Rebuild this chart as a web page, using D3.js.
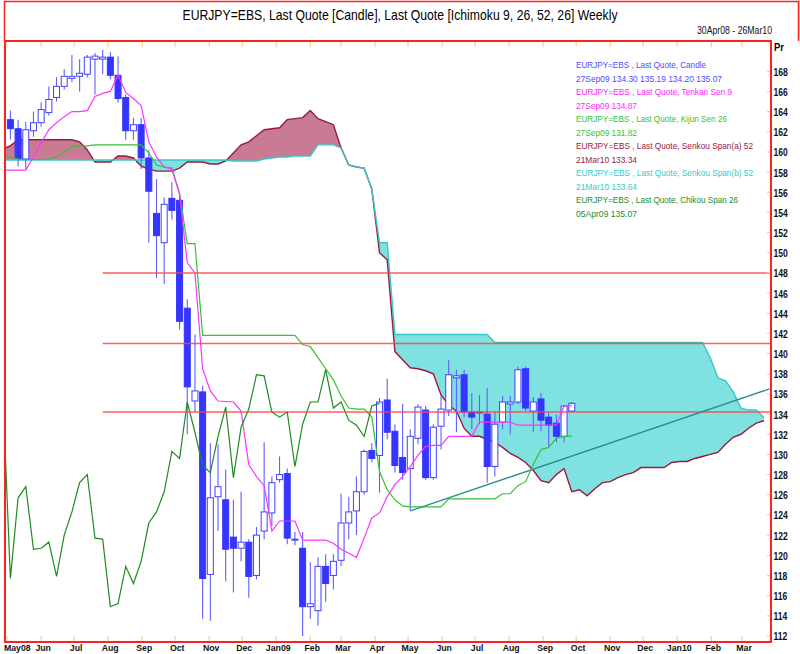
<!DOCTYPE html>
<html><head><meta charset="utf-8">
<script src="https://cdn.jsdelivr.net/npm/d3@7"></script>
<style>body{margin:0;background:#fff}svg{display:block;font-family:"Liberation Sans",Arial,sans-serif}</style>
</head><body><svg id="c" width="800" height="654"></svg>
<script>
// ---------- DATA ----------
const firstWeek = "2008-05-04";            // week index 0 (weekly candles)
const rangeStart = "2008-04-30", rangeEnd = "2010-03-26";
const openP  = [163.2,162.3,159.3,162.1,162.9,163.9,165.4,166.5,167.3,167.5,167.7,169.2,169.2,169.4,167.6,165.4,162.1,162.7,159.4,153.9,151.0,155.4,155.2,144.5,135.3,136.2,118.1,125.8,125.5,121.8,120.7,121.3,118.0,122.4,124.2,127.5,128.1,121.5,120.7,114.9,114.5,118.9,118.0,119.5,123.2,124.4,126.3,130.4,129.9,135.4,132.3,129.7,128.6,131.6,134.4,127.7,132.8,134.4,137.6,137.9,134.2,134.1,134.0,128.8,133.2,135.0,135.2,138.5,134.3,135.5,133.7,133.1,131.8,134.30];
const highP  = [164.1,163.2,163.0,164.0,164.9,166.5,167.4,168.2,169.6,169.2,169.6,169.8,170.1,169.9,169.5,165.7,163.4,163.4,160.2,157.3,155.5,157.0,155.6,145.4,141.9,136.8,131.1,131.0,128.5,125.5,126.3,121.6,122.8,131.2,127.8,129.8,128.6,122.3,122.3,119.3,119.8,120.1,120.1,126.1,125.8,127.8,130.5,131.1,135.6,137.5,133.0,135.0,132.5,135.0,134.8,133.0,135.8,139.4,138.4,138.4,136.1,135.9,136.6,134.2,135.8,135.8,138.7,138.7,135.7,136.1,134.2,133.9,134.9,135.19];
const lowP   = [161.2,158.55,158.3,161.5,162.5,163.6,165.0,166.2,166.9,166.0,167.4,165.7,167.7,167.2,164.9,161.2,161.2,158.3,151.0,147.5,146.9,153.3,142.4,132.0,134.2,113.7,113.5,122.4,117.4,116.3,119.4,115.8,117.6,121.6,122.9,127.2,121.1,121.0,112.0,113.7,113.0,115.4,116.6,118.9,121.6,122.0,126.0,129.2,126.2,131.5,128.2,127.5,124.4,131.0,127.5,127.5,130.5,133.8,132.2,133.7,132.5,133.0,127.2,127.8,132.5,132.0,135.0,134.3,132.2,132.3,130.8,131.2,131.2,134.20];
const closeP = [162.3,159.35,162.2,162.9,164.2,165.2,166.5,167.5,167.5,167.8,169.4,169.5,169.4,167.6,165.3,162.1,162.7,159.4,156.1,151.7,154.8,154.2,143.2,136.7,136.3,117.7,125.7,126.8,120.6,120.7,121.3,117.9,122.0,124.3,127.2,128.0,121.7,121.6,114.9,115.2,118.9,117.2,119.4,123.2,124.3,126.3,130.3,129.6,135.2,132.2,128.9,128.2,131.8,134.7,127.7,132.7,134.5,137.9,137.8,134.2,133.7,134.2,128.8,133.0,135.2,135.2,138.4,134.6,135.2,133.4,132.9,131.8,134.8,135.07];
// lines start at week -1
const tenkan = [158.2,158.2,158.2,158.2,159.5,160.9,162.2,162.9,163.5,164.0,164.0,164.1,165.5,165.8,166.0,167.6,165.9,165.3,164.6,161.0,159.5,158.5,158.3,155.8,149.0,148.0,138.5,136.3,135.3,135.25,135.2,134.3,129.0,127.8,126.9,122.4,123.4,123.4,123.4,121.5,121.5,121.5,121.5,121.2,120.6,120.2,119.8,121.7,123.7,124.2,125.8,127.0,127.8,128.8,129.9,130.8,130.9,130.9,131.8,131.8,131.8,131.8,133.2,133.2,133.2,133.2,133.2,132.9,132.9,132.9,132.9,132.9,132.9,134.8,134.87];
const kijun  = [159.7,159.5,159.3,159.25,159.25,159.25,159.3,159.5,160.0,160.5,160.6,160.6,160.7,160.7,160.7,160.7,160.7,160.7,160.7,159.9,158.7,158.5,158.4,155.9,150.9,150.9,141.8,141.8,141.8,141.8,141.8,141.8,141.8,141.8,141.8,141.8,141.8,141.8,141.8,140.9,140.7,139.6,138.5,137.4,135.8,134.6,134.5,134.5,133.7,128.3,126.5,125.5,124.9,124.8,124.8,124.8,124.8,124.8,125.6,125.6,125.6,125.6,125.6,125.6,125.6,126.1,126.1,126.9,127.3,129.0,130.5,130.7,131.6,131.8,131.82];
const senkouA = [160.3,160.6,161.2,161.2,161.2,161.2,161.2,161.2,161.2,161.2,161.0,160.2,159.0,159.0,159.0,159.6,159.6,159.4,158.6,158.3,158.1,158.1,158.1,158.4,159.0,159.0,159.0,158.8,158.8,159.1,159.9,160.7,161.0,161.6,162.2,162.3,162.4,163.2,163.3,163.4,164.1,163.3,163.0,162.7,160.4,158.7,158.5,158.4,156.3,150.0,149.3,140.2,139.4,138.6,138.5,138.3,138.0,135.9,134.9,134.3,132.6,131.8,131.8,131.5,131.2,130.7,130.1,129.7,129.2,128.4,127.4,127.2,128.0,128.6,126.3,126.5,125.9,126.6,127.2,127.3,127.7,128.0,128.2,128.7,128.7,128.7,128.7,129.2,129.3,129.3,129.6,129.8,130.0,130.2,131.0,131.7,132.0,132.6,133.1,133.34];
const senkouB = [159.2,159.2,159.2,159.2,159.2,159.2,159.2,159.2,159.2,159.2,159.2,159.2,159.2,159.2,159.2,159.2,159.2,159.2,159.2,159.2,159.2,159.2,159.2,159.2,159.2,159.2,159.2,159.2,159.2,159.2,159.1,159.1,159.1,159.1,159.3,159.4,159.5,159.5,159.6,159.6,159.6,160.7,160.7,160.7,160.4,158.7,158.5,158.4,156.3,151.0,151.0,141.9,141.9,141.9,141.9,141.9,141.9,141.9,141.9,141.9,141.9,141.9,141.9,141.9,141.1,141.1,141.1,141.1,141.1,141.1,141.1,141.1,141.1,141.1,141.1,141.1,141.1,141.1,141.1,141.1,141.1,141.1,141.1,141.1,141.1,141.1,141.1,141.1,141.1,141.1,141.1,141.1,139.6,137.6,137.3,136.2,134.6,134.4,134.4,133.64];
const lineStartWeek = -1;
const chikouShiftWeeks = 25;          // Chikou = close plotted 25 weeks back
const hLevels = [148, 141, 134.2];
const hLineStartWeek = 12;
const trendWeek = 52, trendStartVal = 124.4, trendEndVal = 136.5;
const yTickVals = [112,114,116,118,120,122,124,126,128,130,132,134,136,138,140,142,144,146,148,150,152,154,156,158,160,162,164,166,168];
const monthLabels = ["May08","Jun","Jul","Aug","Sep","Oct","Nov","Dec","Jan09","Feb","Mar","Apr","May","Jun","Jul","Aug","Sep","Oct","Nov","Dec","Jan10","Feb","Mar"];
const titleText = "EURJPY=EBS, Last Quote [Candle], Last Quote [Ichimoku 9, 26, 52, 26] Weekly";

// ---------- SETUP ----------
const svg = d3.select('#c');
const P = {l:5, r:771, t:41, b:642};
const pd = d3.timeParse("%Y-%m-%d");
const t0 = pd(firstWeek);
const wd = i => d3.timeDay.offset(t0, 7*i);
const x = d3.scaleTime().domain([pd(rangeStart), pd(rangeEnd)]).range([6, 769.5]);
const y = d3.scaleLinear().domain([111.4, 171.0]).range([642, 41]);
const fmt = d3.timeFormat("%d%b%y");

function condense(sel, f){ sel.each(function(){ const L=this.getComputedTextLength(); d3.select(this).attr('textLength', (L*f).toFixed(1)).attr('lengthAdjust','spacingAndGlyphs'); }); }
function fit(sel, w){ sel.attr('textLength', w).attr('lengthAdjust','spacingAndGlyphs'); }

svg.append('defs').append('clipPath').attr('id','plotclip').append('rect')
  .attr('x',P.l).attr('y',P.t).attr('width',P.r-P.l).attr('height',P.b-P.t);

// frame around title
svg.append('path').attr('d',`M4.5,${P.t} V1.5 H798.5 V${P.t}`).attr('fill','none').attr('stroke','#ff2020').attr('stroke-width',1.5);

const g = svg.append('g').attr('clip-path','url(#plotclip)');

// ---------- CLOUD ----------
const sen = senkouA.map((a,k)=>({d:wd(k+lineStartWeek), a, b:senkouB[k]}));
const defs = svg.select('defs');
defs.append('clipPath').attr('id','aboveB').append('path')
  .attr('d', d3.area().x(d=>x(d.d)).y0(P.t-10).y1(d=>y(d.b))(sen));
defs.append('clipPath').attr('id','belowB').append('path')
  .attr('d', d3.area().x(d=>x(d.d)).y0(P.b+10).y1(d=>y(d.b))(sen));
g.append('path').attr('clip-path','url(#aboveB)')
  .attr('d', d3.area().x(d=>x(d.d)).y0(P.b+10).y1(d=>y(d.a))(sen))
  .attr('fill','#c97b94');
g.append('path').attr('clip-path','url(#belowB)')
  .attr('d', d3.area().x(d=>x(d.d)).y0(P.t-10).y1(d=>y(d.a))(sen))
  .attr('fill','#7fe2e0');
g.append('path').attr('d', d3.line().x(d=>x(d.d)).y(d=>y(d.a))(sen))
  .attr('fill','none').attr('stroke','#9a1840').attr('stroke-width',1.4);
g.append('path').attr('d', d3.line().x(d=>x(d.d)).y(d=>y(d.b))(sen))
  .attr('fill','none').attr('stroke','#38c8c8').attr('stroke-width',1.4);

// ---------- CANDLES ----------
const candles = openP.map((o,i)=>({d:wd(i), o, h:highP[i], l:lowP[i], c:closeP[i]}));
const bw = 6;
g.append('g').selectAll('line').data(candles).join('line')
  .attr('x1',d=>x(d.d)).attr('x2',d=>x(d.d)).attr('y1',d=>y(d.h)).attr('y2',d=>y(d.l))
  .attr('stroke','#5f5fff').attr('stroke-width',1.1);
g.append('g').selectAll('rect').data(candles).join('rect')
  .attr('x',d=>x(d.d)-bw/2).attr('width',bw)
  .attr('y',d=>y(Math.max(d.o,d.c)))
  .attr('height',d=>Math.max(1,Math.abs(y(d.o)-y(d.c))))
  .attr('fill',d=>d.c>=d.o?'#ffffff':'#3535ff')
  .attr('stroke',d=>d.c>=d.o?'#4040ff':'#3535ff').attr('stroke-width',1);

// ---------- ICHIMOKU LINES ----------
const lineGen = d3.line().x(d=>x(d.d)).y(d=>y(d.v));
g.append('path').attr('d', lineGen(kijun.map((v,k)=>({d:wd(k+lineStartWeek),v}))))
  .attr('fill','none').attr('stroke','#33c433').attr('stroke-width',1.2);
g.append('path').attr('d', lineGen(tenkan.map((v,k)=>({d:wd(k+lineStartWeek),v}))))
  .attr('fill','none').attr('stroke','#ff33ff').attr('stroke-width',1.2);
g.append('path').attr('d', lineGen(closeP.map((v,i)=>({d:wd(i-chikouShiftWeeks),v}))))
  .attr('fill','none').attr('stroke','#1f8a1f').attr('stroke-width',1.2);

// horizontal levels
g.append('g').selectAll('line').data(hLevels).join('line')
  .attr('x1',x(wd(hLineStartWeek))).attr('x2',P.r).attr('y1',d=>y(d)).attr('y2',d=>y(d))
  .attr('stroke','#ff4545').attr('stroke-width',1.5).attr('opacity',0.85);

// trend line
g.append('line')
  .attr('x1',x(wd(trendWeek))).attr('y1',y(trendStartVal))
  .attr('x2',x(pd(rangeEnd))).attr('y2',y(trendEndVal))
  .attr('stroke','#2b8c8c').attr('stroke-width',1.3);

// ---------- AXES ----------
const months = d3.timeMonth.range(new Date(2008,4,1), new Date(2010,3,1));
const tk = svg.append('g').attr('stroke','#ffcc99').attr('stroke-width',1.2);
months.forEach(m=>{
  tk.append('line').attr('x1',x(m)).attr('x2',x(m)).attr('y1',P.t+1).attr('y2',P.t+6);
  tk.append('line').attr('x1',x(m)).attr('x2',x(m)).attr('y1',P.b-6).attr('y2',P.b-1);
});
yTickVals.forEach(v=>{
  tk.append('line').attr('x1',P.r-4).attr('x2',P.r-1).attr('y1',y(v)).attr('y2',y(v));
});

// plot frame
svg.append('rect').attr('x',P.l).attr('y',P.t).attr('width',P.r-P.l).attr('height',P.b-P.t)
  .attr('fill','none').attr('stroke','#ff2020').attr('stroke-width',2);

const xl = svg.append('g').selectAll('text').data(months).join('text')
  .attr('x',(d,i)=> i===0 ? 4 : x(d)+2).attr('y',651)
  .attr('text-anchor',(d,i)=> i===0?'start':'middle')
  .attr('font-size',9.5).attr('font-weight','bold').attr('fill','#111')
  .text((d,i)=>monthLabels[i]);
condense(xl, 0.92);

const yl = svg.append('g').selectAll('text').data(yTickVals).join('text')
  .attr('x',P.r+2.5).attr('y',d=>y(d)+4.5)
  .attr('font-size',11).attr('font-weight','bold').attr('fill','#111')
  .text(d=>d);
condense(yl, 0.78);

const pr = svg.append('text').attr('x',774).attr('y',51).attr('font-size',11).attr('font-weight','bold').text('Pr');
condense(pr, 0.85);

// ---------- TITLE ----------
fit(svg.append('text').attr('x',400).attr('y',20).attr('text-anchor','middle')
  .attr('font-size',15).attr('fill','#000').text(titleText), 435);
fit(svg.append('text').attr('x',772).attr('y',34).attr('text-anchor','end')
  .attr('font-size',11).attr('fill','#111').text(`${fmt(pd(rangeStart))} - ${fmt(pd(rangeEnd))}`), 75);

// ---------- LEGEND ----------
const lastI = closeP.length-1;
const lastSen = senkouA.length-1;
const f2 = d3.format(".2f");
const legend = [
  ["EURJPY=EBS , Last Quote, Candle", "#4d4dff", 130],
  [`${fmt(wd(lastI))} ${f2(openP[lastI])} ${f2(highP[lastI])} ${f2(lowP[lastI])} ${f2(closeP[lastI])}`, "#4d4dff", 146],
  ["EURJPY=EBS , Last Quote, Tenkan Sen 9", "#ff22ff", 156],
  [`${fmt(wd(lastI))} ${f2(tenkan[tenkan.length-1])}`, "#ff22ff", 61],
  ["EURJPY=EBS , Last Quote, Kijun Sen 26", "#33c433", 151],
  [`${fmt(wd(lastI))} ${f2(kijun[kijun.length-1])}`, "#33c433", 61],
  ["EURJPY=EBS , Last Quote, Senkou Span(a) 52", "#9a1840", 177],
  [`${fmt(wd(lastSen+lineStartWeek))} ${f2(senkouA[lastSen])}`, "#9a1840", 61],
  ["EURJPY=EBS , Last Quote, Senkou Span(b) 52", "#33cccc", 177],
  [`${fmt(wd(lastSen+lineStartWeek))} ${f2(senkouB[lastSen])}`, "#33cccc", 61],
  ["EURJPY=EBS , Last Quote, Chikou Span 26", "#1f8a1f", 162],
  [`${fmt(wd(lastI-chikouShiftWeeks))} ${f2(closeP[lastI])}`, "#1f8a1f", 61]
];
legend.forEach((L,k)=>{
  fit(svg.append('text').attr('x',576).attr('y',68+13.5*k).attr('font-size',9)
    .attr('fill',L[1]).text(L[0]), L[2]);
});
</script></body></html>
